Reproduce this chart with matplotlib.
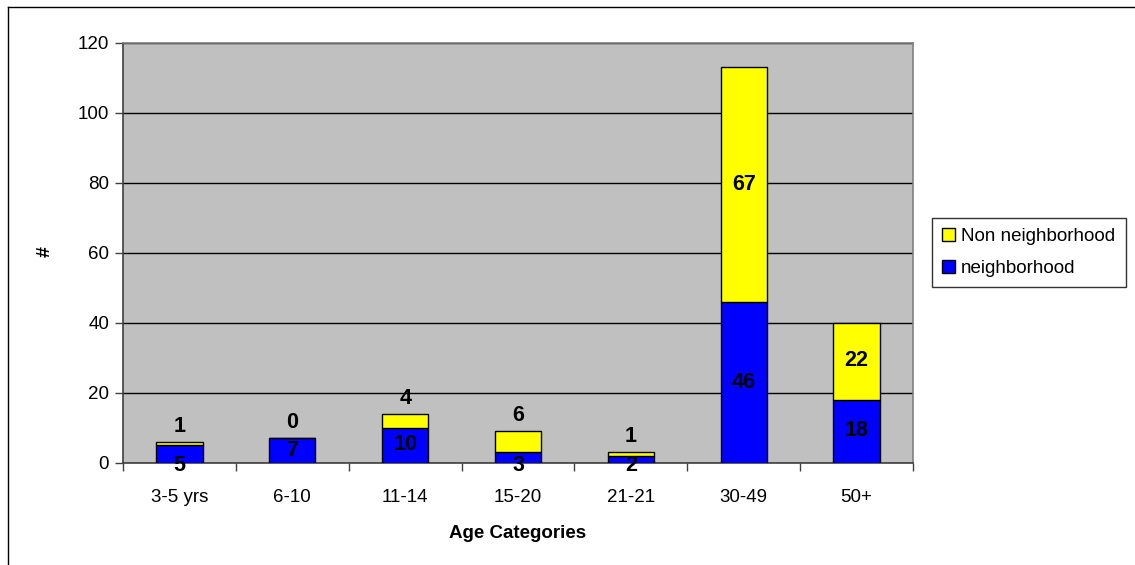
import numpy as np
import matplotlib
matplotlib.use("Agg")
import matplotlib.pyplot as plt
from matplotlib.lines import Line2D

plt.rcParams['font.family'] = ['Liberation Sans', 'DejaVu Sans']

# data
categories = ["3-5 yrs", "6-10", "11-14", "15-20", "21-21", "30-49", "50+"]
neighborhood = [5, 7, 10, 3, 2, 46, 18]
non_neighborhood = [1, 0, 4, 6, 1, 67, 22]

fig = plt.figure(figsize=(11.35, 5.65), dpi=100)
ax = fig.add_axes([123/1135, 102.5/565, 790/1135, 420/565])
ax.set_facecolor("#C0C0C0")

x = np.arange(len(categories))
w = 0.41
b1 = ax.bar(x, neighborhood, w, color="#0000FF", edgecolor="black", lw=1,
            label="neighborhood", zorder=3)
b2 = ax.bar(x, non_neighborhood, w, bottom=neighborhood, color="#FFFF00",
            edgecolor="black", lw=1, label="Non neighborhood", zorder=3)

# value labels (small segments pushed out like excel does)
lbl = dict(fontsize=15.5, fontweight="bold", ha="center", va="center", zorder=5)
for i in range(len(categories)):
    nb, nn = neighborhood[i], non_neighborhood[i]
    if nb < 7:
        ax.annotate(str(nb), (x[i], 0), xytext=(0, -2), textcoords="offset points", **lbl)
    else:
        ax.text(x[i], nb / 2, str(nb), **lbl)
    if nn < 7:
        ax.annotate(str(nn), (x[i], nb + nn), xytext=(0, 11), textcoords="offset points", **lbl)
    else:
        ax.text(x[i], nb + nn / 2, str(nn), **lbl)

ax.set_ylim(0, 120)
ax.set_xlim(-0.5, len(categories) - 0.5)
ax.set_yticks(range(0, 121, 20))
ax.yaxis.grid(True, color="black", lw=1)
ax.set_axisbelow(True)

ax.set_xticks(x)
ax.set_xticklabels(categories)
ax.set_xticks(np.arange(-0.5, len(categories), 1), minor=True)
ax.tick_params(axis="x", which="major", length=0, pad=19, labelsize=13.5)
ax.tick_params(axis="x", which="minor", length=6, width=1, color="#404040")
ax.tick_params(axis="y", length=6, width=1, color="#404040", labelsize=13.5, pad=4)

for s in ["left", "bottom"]:
    ax.spines[s].set_color("#404040")
    ax.spines[s].set_linewidth(1.2)
for s in ["top", "right"]:
    ax.spines[s].set_color("#808080")
    ax.spines[s].set_linewidth(1.2)

ax.set_xlabel("Age Categories", fontsize=13.5, fontweight="bold", labelpad=14)
fig.text(45/1135, 1 - 252/565, "#", fontsize=14, fontweight="bold",
         rotation=90, ha="center", va="center")

leg = fig.legend(handles=[b2, b1], loc="upper left",
                 bbox_to_anchor=(932/1135, 1 - 218/565), fontsize=13.5,
                 frameon=True, fancybox=False, edgecolor="black",
                 handlelength=0.7, handleheight=0.7, handletextpad=0.3,
                 borderpad=0.55, labelspacing=0.75, borderaxespad=0)
leg.get_frame().set_linewidth(1)

# chart area border (top and left only are visible)
fig.add_artist(Line2D([8/1135, 8/1135], [0, 1 - 7/565], transform=fig.transFigure,
                      color="black", lw=1))
fig.add_artist(Line2D([8/1135, 1], [1 - 7/565, 1 - 7/565], transform=fig.transFigure,
                      color="black", lw=1))

fig.savefig("out.png", dpi=100)
